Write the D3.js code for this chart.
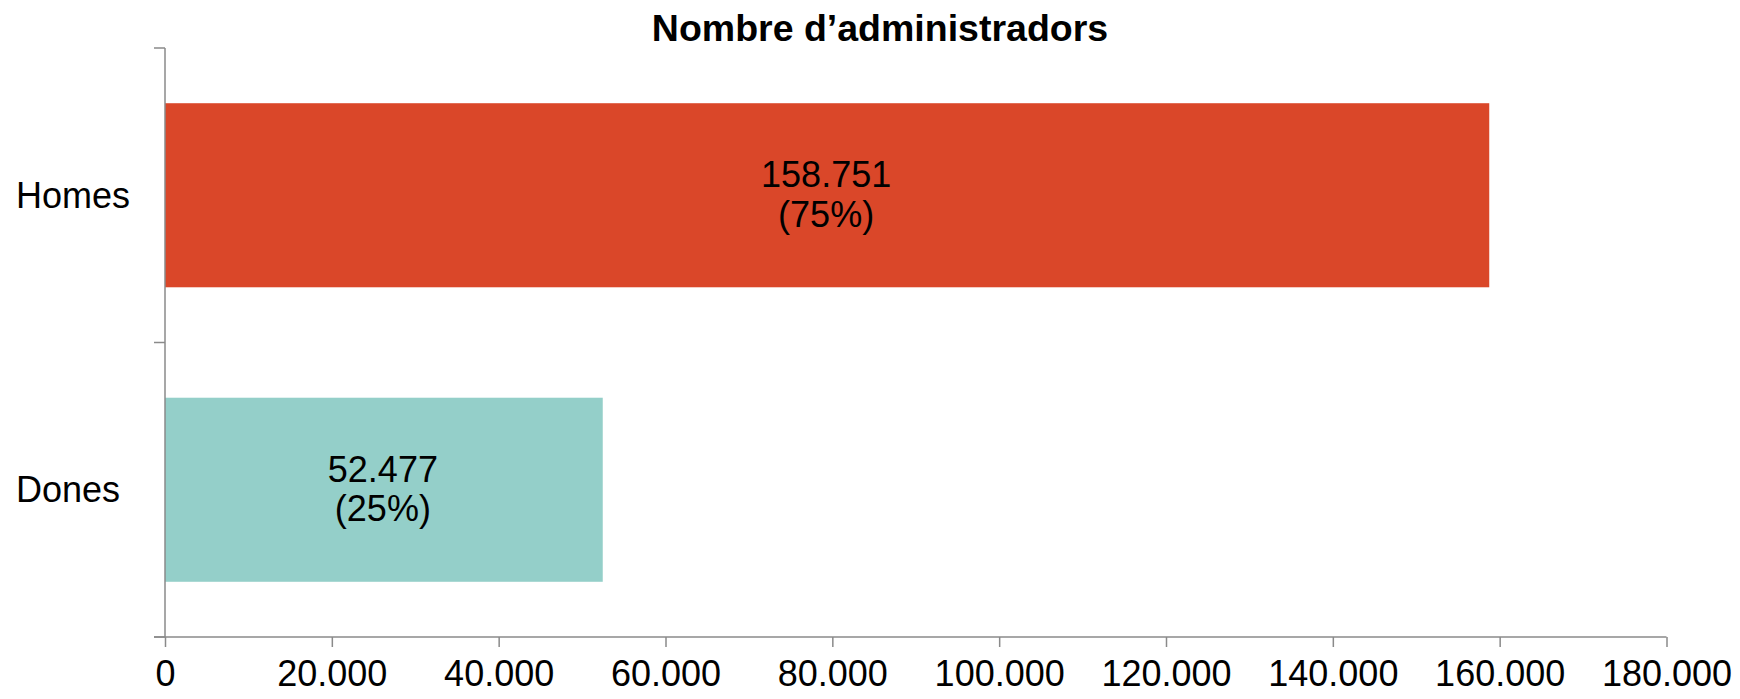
<!DOCTYPE html>
<html>
<head>
<meta charset="utf-8">
<script src="https://cdn.jsdelivr.net/npm/d3@7"></script>
<style>
  html, body { margin: 0; padding: 0; background: #fff; }
  svg { display: block; }
  text { font-family: "Liberation Sans", Arial, Helvetica, sans-serif; fill: #000; }
</style>
</head>
<body>
<svg id="chart" width="1740" height="699"></svg>
<script>
// ---- data ----
const title = "Nombre d\u2019administradors";
const categories = ["Homes", "Dones"];
const values = [158751, 52477];
const percents = [75, 25];
const barColors = ["#DA4729", "#94CFC9"];
const xTicks = [0, 20000, 40000, 60000, 80000, 100000, 120000, 140000, 160000, 180000];
const xMax = 180000;

// ---- layout ----
const plotLeft = 165, plotRight = 1666.5, plotTop = 48, plotBottom = 637;
const axisColor = "#8a8a8a";

const loc = d3.formatLocale({decimal: ",", thousands: ".", grouping: [3], currency: ["", "\u20ac"]});
const fmt = loc.format(",d");

const svg = d3.select("#chart");

const x = d3.scaleLinear().domain([0, xMax]).range([plotLeft, plotRight]);
const y = d3.scaleBand().domain(categories).range([plotTop, plotBottom])
  .paddingInner(0.375).paddingOuter(0.1875);

const data = categories.map((c, i) => ({cat: c, value: values[i], pct: percents[i], color: barColors[i]}));

// title
svg.append("text")
  .attr("x", 880).attr("y", 41)
  .attr("text-anchor", "middle")
  .style("font-size", "37.5px").style("font-weight", "bold")
  .text(title);

// bars
svg.selectAll("rect.bar").data(data).enter().append("rect")
  .attr("class", "bar")
  .attr("x", x(0))
  .attr("y", d => y(d.cat))
  .attr("width", d => x(d.value) - x(0))
  .attr("height", y.bandwidth())
  .attr("fill", d => d.color);

// bar labels
const lbl = svg.selectAll("g.lbl").data(data).enter().append("g").attr("class", "lbl")
  .attr("transform", d => `translate(${(x(0) + x(d.value)) / 2 - 1},${y(d.cat) + y.bandwidth() / 2})`);
lbl.append("text").attr("text-anchor", "middle").attr("y", -8)
  .style("font-size", "36px").text(d => fmt(d.value));
lbl.append("text").attr("text-anchor", "middle").attr("y", 31.5)
  .style("font-size", "36px").text(d => `(${d.pct}%)`);

// x axis
const xAxis = d3.axisBottom(x).tickValues(xTicks).tickSize(10).tickSizeOuter(0)
  .tickFormat(d => fmt(d));
const gx = svg.append("g").attr("transform", `translate(0,${plotBottom})`).call(xAxis);
gx.select(".domain").attr("stroke", axisColor).attr("stroke-width", 1.5)
  .attr("d", `M${plotLeft - 11},0H${plotRight}`);
gx.selectAll(".tick line").attr("stroke", axisColor).attr("stroke-width", 1.5);
gx.selectAll(".tick text").attr("y", 49).attr("dy", null)
  .style("font-size", "36px").style("font-family", "'Liberation Sans', Arial, sans-serif").attr("fill", "#000");

// y axis (line + ticks at band boundaries)
const gy = svg.append("g");
gy.append("line").attr("x1", plotLeft).attr("x2", plotLeft).attr("y1", plotTop).attr("y2", plotBottom)
  .attr("stroke", axisColor).attr("stroke-width", 1.5);
const step = y.step();
const boundaries = d3.range(categories.length + 1).map(i => plotTop + i * step);
gy.selectAll("line.tk").data(boundaries).enter().append("line").attr("class", "tk")
  .attr("x1", plotLeft - 11).attr("x2", plotLeft).attr("y1", d => d).attr("y2", d => d)
  .attr("stroke", axisColor).attr("stroke-width", 1.5);

// category labels
svg.selectAll("text.cat").data(data).enter().append("text").attr("class", "cat")
  .attr("x", 16)
  .attr("y", d => y(d.cat) + y.bandwidth() / 2 + 12.5)
  .style("font-size", "36px")
  .text(d => d.cat);
</script>
</body>
</html>
